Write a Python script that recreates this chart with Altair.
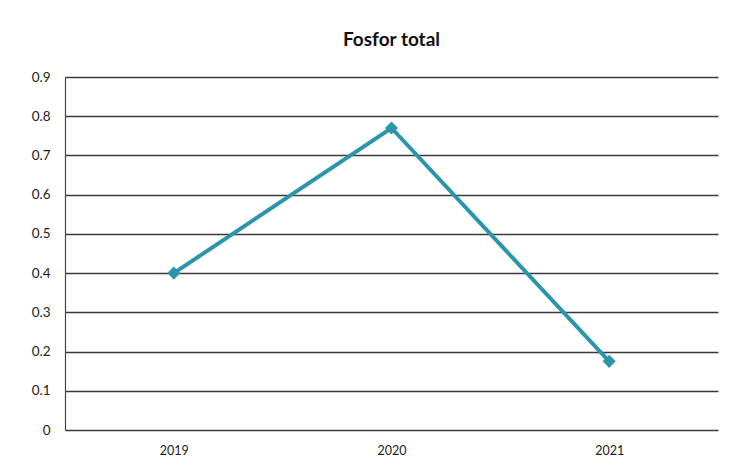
import altair as alt
import pandas as pd

years = ["2019", "2020", "2021"]
values = [0.40, 0.77, 0.175]
y_ticks = [0, 0.1, 0.2, 0.3, 0.4, 0.5, 0.6, 0.7, 0.8, 0.9]

df = pd.DataFrame({"year": years, "value": values})

color = "#2a95ab"

base = alt.Chart(df).encode(
    x=alt.X("year:N", sort=years, title=None,
            scale=alt.Scale(type="point", padding=0.5),
            axis=alt.Axis(labelAngle=0, ticks=False, domain=False, grid=False,
                          labelFont="Lato", labelFontSize=12.5, labelColor="#222",
                          labelPadding=14)),
    y=alt.Y("value:Q", title=None,
            scale=alt.Scale(domain=[0, 0.9], nice=False),
            axis=alt.Axis(values=y_ticks, ticks=False, domain=True, domainColor="#444",
                          domainWidth=1.2, grid=True, gridColor="#3a3a3a", gridWidth=1.3,
                          labelFont="Lato", labelFontSize=13.5, labelColor="#222",
                          labelPadding=15,
                          labelExpr="datum.value == 0 ? '0' : format(datum.value, '.1f')")),
)

line = base.mark_line(color=color, strokeWidth=4)
pts = base.mark_point(shape="diamond", filled=True, color=color, size=170, opacity=1)

chart = (line + pts).properties(
    width=653, height=353,
    background="white",
    autosize=alt.AutoSizeParams(type="none"),
    padding={"left": 57, "top": 69, "right": 7, "bottom": 29},
    title=alt.TitleParams("Fosfor total", font="Lato", fontSize=19, fontWeight="bold",
                          color="#111", offset=20, anchor="middle"),
).configure_view(stroke="transparent", strokeWidth=0).configure_axisX(grid=False, domain=False)

chart.save("out.html", embed_options={"renderer": "svg", "actions": False})
